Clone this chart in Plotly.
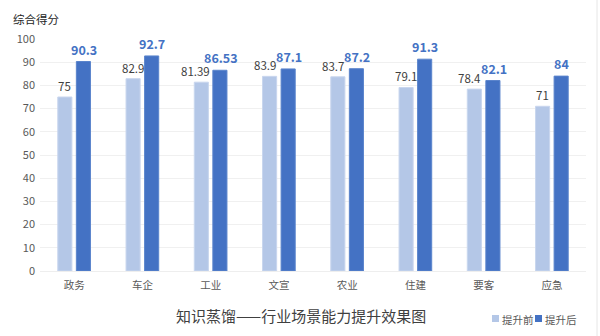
import plotly.graph_objects as go

categories = ["政务", "车企", "工业", "文宣", "农业", "住建", "要客", "应急"]
before = [75, 82.9, 81.39, 83.9, 83.7, 79.1, 78.4, 71]
after = [90.3, 92.7, 86.53, 87.1, 87.2, 91.3, 82.1, 84]
series_names = ["提升前", "提升后"]
y_ticks = [0, 10, 20, 30, 40, 50, 60, 70, 80, 90, 100]
chart_title = "知识蒸馏——行业场景能力提升效果图"
y_title = "综合得分"

FONT = "Microsoft YaHei, Noto Sans CJK SC, sans-serif"
LIGHT = "#b4c7e7"
DARK = "#4472c4"
colors = [LIGHT, DARK]

# plot area in pixels: left 40, right 586, top 39, bottom 271
PL, PR, PT, PB = 40, 586, 39, 271
HALF_SLOT = 9.25  # px from category centre to each bar centre


def px_x(x):
    return (x - PL) / (PR - PL)


def px_y(y):
    return (PB - y) / (PB - PT)


fig = go.Figure()
fig.add_trace(go.Bar(
    x=categories, y=before, name=series_names[0],
    marker=dict(color=LIGHT, line=dict(color="#c9d6ee", width=1)),
    showlegend=False, hoverinfo="x+y",
))
fig.add_trace(go.Bar(
    x=categories, y=after, name=series_names[1],
    marker=dict(color=DARK, line=dict(color="#5a84cc", width=1)),
    showlegend=False, hoverinfo="x+y",
))

# value labels above each bar; the light label is nudged left when the
# two labels of a group sit close together vertically
for cat, v0, v1 in zip(categories, before, after):
    t0 = f"{v0:g}"
    nudge = -(len(t0) + 0.5) if (v1 - v0) < 8 else 0
    fig.add_annotation(
        x=cat, y=v0, xref="x", yref="y", text=t0, showarrow=False,
        xanchor="center", yanchor="bottom", xshift=-HALF_SLOT + nudge, yshift=1,
        font=dict(family=FONT, size=11.5, color="#404040"),
    )
    fig.add_annotation(
        x=cat, y=v1, xref="x", yref="y", text=f"<b>{v1:g}</b>", showarrow=False,
        xanchor="center", yanchor="bottom", xshift=HALF_SLOT + 0.75, yshift=1,
        font=dict(family=FONT, size=12.5, color=DARK),
    )

fig.update_layout(
    width=600, height=336,
    margin=dict(l=PL, r=600 - PR, t=PT, b=336 - PB, autoexpand=False),
    paper_bgcolor="white", plot_bgcolor="white",
    barmode="group", bargap=0.456, bargroupgap=0.24,
    font=dict(family=FONT, color="#595959"),
    showlegend=False,
    xaxis=dict(
        showgrid=False, showline=True, linecolor="#eeeeee", linewidth=1,
        ticks="", ticklabelstandoff=4,
        tickfont=dict(family=FONT, size=10.5, color="#595959"),
    ),
    yaxis=dict(
        range=[0, 100], tickvals=y_ticks, showgrid=True, gridcolor="#f0f0f0",
        zeroline=False, showline=False, ticks="", ticklabelstandoff=4,
        tickfont=dict(family=FONT, size=11, color="#595959"),
    ),
)

fig.add_annotation(
    text=y_title, xref="paper", yref="paper", x=px_x(11), y=px_y(19),
    xanchor="left", yanchor="middle", showarrow=False,
    font=dict(family=FONT, size=11.5, color="#262626"),
)
fig.add_annotation(
    text=chart_title, xref="paper", yref="paper", x=px_x(301), y=px_y(315),
    xanchor="center", yanchor="middle", showarrow=False,
    font=dict(family=FONT, size=15, color="#404040"),
)

# compact legend at the bottom right: colour square + series name
legend_x = [492, 535]
for name, color, px in zip(series_names, colors, legend_x):
    fig.add_shape(
        type="rect", xref="paper", yref="paper",
        x0=px_x(px), x1=px_x(px + 7),
        y0=px_y(322), y1=px_y(315),
        fillcolor=color, line=dict(width=0),
    )
    fig.add_annotation(
        text=name, xref="paper", yref="paper", x=px_x(px + 8),
        y=px_y(319), xanchor="left", yanchor="middle", showarrow=False,
        font=dict(family=FONT, size=10.5, color="#595959"),
    )

fig.add_shape(
    type="line", xref="paper", yref="paper",
    x0=px_x(597), x1=px_x(597), y0=px_y(336), y1=px_y(0),
    line=dict(color="#e6e6e6", width=1),
)

fig.write_html("out.html")
